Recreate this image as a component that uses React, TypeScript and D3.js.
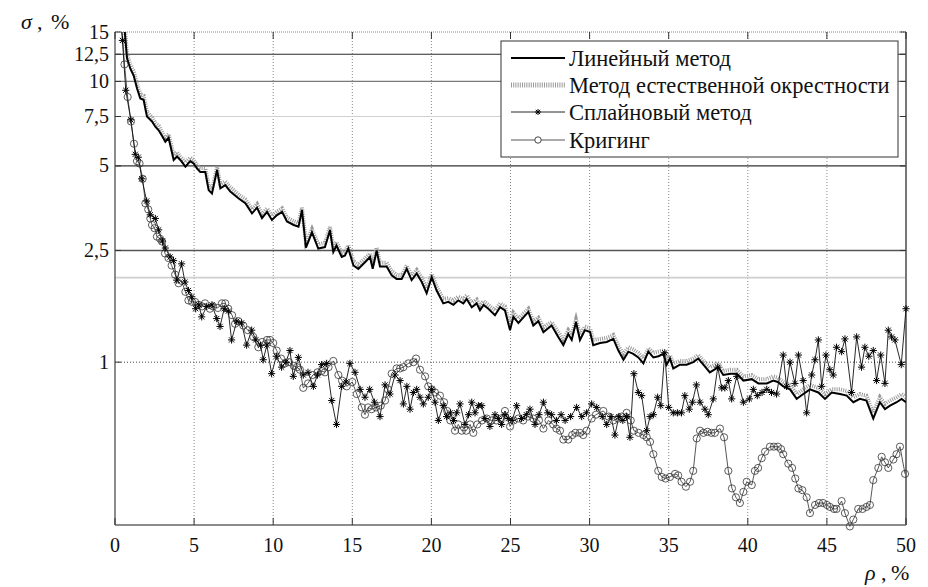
import React from "react";
import * as d3 from "d3";

// ---------- data ----------
const xUpper = [
  0.5, 0.76, 0.97, 1.18, 1.39, 1.6, 1.81, 1.92, 2.02, 2.34,
  2.55, 2.76, 2.97, 3.18, 3.39, 3.71, 3.92, 4.13, 4.45, 4.76,
  4.97, 5.18, 5.39, 5.71, 5.92, 6.13, 6.45, 6.66, 6.97, 7.29,
  7.82, 8.24, 8.66, 8.98, 9.29, 9.61, 9.92, 10.24, 10.56, 10.87,
  11.3, 11.6, 11.82, 12.07, 12.45, 12.85, 13.27, 13.59, 13.8, 14.0,
  14.33, 14.54, 14.75, 15.07, 15.38, 15.8, 16.12, 16.29, 16.54, 16.75,
  17.17, 17.49, 17.8, 18.12, 18.44, 18.75, 19.07, 19.39, 19.7, 20.02,
  20.33, 20.75, 21.07, 21.39, 21.7, 22.02, 22.23, 22.55, 22.86, 23.07,
  23.3, 23.6, 24.02, 24.34, 24.65, 24.97, 25.18, 25.5, 26.13, 26.44,
  26.76, 27.08, 27.6, 28.02, 28.34, 28.65, 28.87, 29.14, 29.39, 29.7,
  30.03, 30.23, 30.66, 31.08, 31.5, 31.82, 32.14, 32.45, 32.76, 33.08,
  33.4, 33.71, 34.03, 34.35, 34.66, 34.87, 35.08, 35.29, 35.71, 36.13,
  36.55, 36.87, 37.19, 37.6, 38.14, 38.45, 38.9, 39.3, 39.72, 40.25,
  40.67, 41.2, 41.61, 41.9, 42.24, 42.67, 43.09, 43.51, 43.93, 44.46,
  44.88, 45.3, 45.83, 46.25, 46.67, 47.09, 47.5, 47.93, 48.35, 48.67,
  48.99, 49.41, 49.72, 50.0,
];

const linearValues = [
  18, 12.1, 11.1, 10.5, 9.45, 8.7, 8.6, 8.0, 7.5, 7.2,
  6.9, 6.7, 6.4, 6.1, 6.3, 5.25, 5.4, 5.25, 4.97, 5.2,
  5.1, 4.9, 4.76, 4.76, 4.1, 3.99, 4.84, 4.16, 4.27, 4.05,
  3.83, 3.68, 3.39, 3.55, 3.26, 3.43, 3.21, 3.34, 3.43, 3.17,
  3.08, 3.04, 3.48, 2.56, 2.9, 2.54, 2.57, 2.95, 2.47, 2.6,
  2.37, 2.4, 2.54, 2.21, 2.15, 2.27, 2.37, 2.15, 2.5, 2.19,
  2.19, 2.04, 1.98, 1.98, 2.15, 1.96, 2.07, 1.93, 1.76, 2.01,
  1.8, 1.62, 1.64, 1.6, 1.66, 1.62, 1.68, 1.57, 1.62, 1.53,
  1.6, 1.55, 1.47, 1.57, 1.53, 1.3, 1.45, 1.38, 1.51, 1.35,
  1.4, 1.28, 1.35, 1.23, 1.15, 1.26, 1.2, 1.39, 1.2, 1.3,
  1.28, 1.15, 1.17, 1.18, 1.21, 1.1, 1.02, 1.09, 1.07, 1.04,
  0.99, 1.09, 1.04, 1.05, 1.07, 0.98, 1.03, 0.95, 0.98, 0.98,
  1.0, 1.03, 0.98, 0.92, 0.96, 0.9, 0.91, 0.91, 0.86, 0.87,
  0.84, 0.84, 0.86, 0.85, 0.82, 0.8, 0.74, 0.77, 0.8, 0.78,
  0.74, 0.78, 0.77, 0.76, 0.72, 0.74, 0.73, 0.63, 0.72, 0.68,
  0.7, 0.72, 0.74, 0.72,
];

const naturalValues = [
  19, 12.5, 11.5, 10.9, 9.8, 9.0, 8.9, 8.3, 7.8, 7.45,
  7.1, 6.95, 6.6, 6.3, 6.5, 5.45, 5.6, 5.4, 5.15, 5.35,
  5.25, 5.05, 4.92, 4.9, 4.25, 4.12, 4.95, 4.3, 4.4, 4.2,
  3.95, 3.8, 3.5, 3.66, 3.37, 3.53, 3.32, 3.44, 3.53, 3.27,
  3.18, 3.13, 3.55, 2.66, 2.98, 2.63, 2.66, 3.03, 2.56, 2.68,
  2.45, 2.48, 2.61, 2.29, 2.22, 2.34, 2.44, 2.23, 2.56, 2.26,
  2.26, 2.11, 2.05, 2.04, 2.21, 2.03, 2.13, 2.0, 1.83, 2.06,
  1.86, 1.68, 1.69, 1.66, 1.71, 1.68, 1.73, 1.63, 1.67, 1.59,
  1.65, 1.6, 1.53, 1.62, 1.58, 1.36, 1.5, 1.43, 1.55, 1.4,
  1.44, 1.33, 1.39, 1.28, 1.2, 1.3, 1.25, 1.42, 1.25, 1.34,
  1.32, 1.2, 1.21, 1.22, 1.25, 1.14, 1.07, 1.13, 1.11, 1.08,
  1.03, 1.12, 1.08, 1.09, 1.1, 1.02, 1.06, 0.99, 1.01, 1.01,
  1.03, 1.06, 1.01, 0.96, 0.99, 0.93, 0.94, 0.94, 0.89, 0.9,
  0.87, 0.87, 0.89, 0.88, 0.85, 0.83, 0.77, 0.8, 0.83, 0.81,
  0.77, 0.8, 0.8, 0.79, 0.75, 0.77, 0.76, 0.66, 0.75, 0.71,
  0.73, 0.75, 0.77, 0.75,
];

const xSpline = [
  0.25, 0.47, 0.68, 1.0, 1.28, 1.47, 1.7, 2.0, 2.23, 2.55,
  2.76, 3.0, 3.18, 3.48, 3.7, 3.9, 4.21, 4.42, 4.64, 4.85,
  5.1, 5.3, 5.48, 5.8, 6.13, 6.43, 6.64, 6.9, 7.16, 7.37,
  7.7, 8.0, 8.32, 8.64, 8.9, 9.2, 9.37, 9.6, 9.9, 10.2,
  10.53, 10.8, 11.06, 11.27, 11.59, 11.9, 12.2, 12.54, 12.8, 13.06,
  13.38, 13.7, 14.0, 14.33, 14.6, 14.85, 15.17, 15.5, 15.8, 16.1,
  16.4, 16.75, 17.07, 17.38, 17.7, 18.02, 18.23, 18.45, 18.65, 18.86,
  19.07, 19.28, 19.49, 19.8, 20.02, 20.23, 20.44, 20.75, 20.96, 21.2,
  21.4, 21.6, 21.81, 22.12, 22.35, 22.55, 22.76, 22.97, 23.18, 23.39,
  23.7, 24.02, 24.23, 24.44, 24.65, 24.86, 25.1, 25.39, 25.7, 26.0,
  26.23, 26.55, 26.8, 27.08, 27.35, 27.6, 27.9, 28.2, 28.45, 28.8,
  29.18, 29.5, 29.8, 30.13, 30.45, 30.8, 31.08, 31.35, 31.6, 31.85,
  32.1, 32.34, 32.55, 32.8, 33.08, 33.29, 33.61, 33.82, 34.03, 34.3,
  34.5, 34.75, 35.0, 35.29, 35.55, 35.81, 36.02, 36.3, 36.5, 36.75,
  36.98, 37.29, 37.5, 37.82, 38.1, 38.35, 38.55, 38.77, 38.98, 39.3,
  39.72, 40.1, 40.35, 40.6, 40.9, 41.2, 41.5, 41.82, 42.24, 42.45,
  42.67, 42.98, 43.2, 43.5, 43.72, 44.04, 44.25, 44.46, 44.67, 44.94,
  45.19, 45.4, 45.61, 45.93, 46.14, 46.56, 46.88, 47.19, 47.4, 47.65,
  47.93, 48.14, 48.4, 48.67, 48.88, 49.09, 49.3, 49.7, 50.0,
];

const splineValues = [
  19, 14.0, 9.3, 7.3, 5.5, 5.37, 4.5, 3.75, 3.35, 3.25,
  2.96, 2.7, 2.55, 2.37, 2.3, 1.96, 2.24, 1.93, 1.8, 1.71,
  1.55, 1.6, 1.45, 1.58, 1.6, 1.43, 1.34, 1.55, 1.52, 1.2,
  1.4, 1.38, 1.15, 1.3, 1.2, 1.15, 1.02, 1.15, 0.91, 1.05,
  0.96, 1.0, 1.1, 0.89, 1.04, 0.9, 0.92, 0.82, 0.9, 0.98,
  0.99, 0.73, 0.6, 0.82, 0.85, 0.99, 0.92, 0.8, 0.75, 0.8,
  0.72, 0.64, 0.83, 0.77, 0.9, 0.86, 0.71, 0.82, 0.68, 0.78,
  0.8, 0.75, 0.71, 0.75, 0.8, 0.72, 0.62, 0.7, 0.64, 0.66,
  0.62, 0.66, 0.71, 0.6, 0.65, 0.72, 0.66, 0.7, 0.7, 0.63,
  0.59, 0.65, 0.63, 0.6, 0.65, 0.63, 0.62, 0.7, 0.63, 0.65,
  0.68, 0.6, 0.65, 0.72, 0.66, 0.65, 0.62, 0.65, 0.62, 0.64,
  0.69, 0.64, 0.66, 0.71, 0.69, 0.64, 0.6, 0.64, 0.55, 0.64,
  0.62, 0.64, 0.54, 0.91, 0.78, 0.76, 0.57, 0.64, 0.65, 0.75,
  0.7, 1.08, 0.69, 0.66, 0.66, 0.66, 0.76, 0.68, 0.72, 0.83,
  0.72, 0.68, 0.65, 0.74, 0.96, 0.81, 0.81, 0.86, 0.74, 0.89,
  0.72, 0.74, 0.8, 0.76, 0.78, 0.8, 0.78, 0.77, 1.06, 0.82,
  1.0, 0.84, 1.06, 0.86, 0.66, 0.9, 1.02, 1.2, 0.82, 1.06,
  0.94, 0.9, 1.13, 1.09, 1.21, 0.78, 1.23, 0.96, 1.13, 1.05,
  1.1, 0.86, 1.06, 0.84, 1.3, 1.23, 1.2, 0.98, 1.55,
];

const xKriging = [
  0.3, 0.6, 0.8, 1.01, 1.2, 1.39, 1.55, 1.75, 1.92, 2.1,
  2.23, 2.34, 2.5, 2.65, 2.85, 2.97, 3.16, 3.38, 3.58, 3.8,
  4.02, 4.2, 4.45, 4.64, 4.87, 5.06, 5.3, 5.5, 5.69, 6.0,
  6.2, 6.5, 6.76, 6.97, 7.16, 7.4, 7.59, 7.8, 8.11, 8.4,
  8.74, 9.06, 9.3, 9.61, 9.8, 10.0, 10.22, 10.5, 10.75, 11.0,
  11.3, 11.5, 11.69, 11.9, 12.2, 12.5, 12.8, 13.06, 13.27, 13.5,
  13.8, 14.12, 14.35, 14.65, 15.0, 15.28, 15.6, 15.8, 16.0, 16.22,
  16.5, 16.8, 17.07, 17.25, 17.49, 17.8, 18.02, 18.23, 18.54, 18.86,
  19.03, 19.28, 19.6, 19.8, 20.02, 20.23, 20.54, 20.8, 21.0, 21.2,
  21.49, 21.7, 21.92, 22.2, 22.45, 22.65, 22.9, 23.2, 23.5, 23.8,
  24.1, 24.4, 24.65, 24.97, 25.2, 25.5, 25.8, 26.1, 26.44, 26.8,
  27.08, 27.4, 27.7, 27.9, 28.13, 28.34, 28.65, 28.9, 29.1, 29.39,
  29.6, 29.81, 30.13, 30.4, 30.87, 31.2, 31.5, 31.8, 32.03, 32.34,
  32.6, 32.8, 33.1, 33.4, 33.61, 33.82, 34.03, 34.34, 34.56, 34.8,
  35.08, 35.4, 35.6, 35.81, 36.09, 36.35, 36.55, 36.77, 36.98, 37.2,
  37.45, 37.7, 37.92, 38.24, 38.5, 38.77, 39.0, 39.25, 39.5, 39.72,
  39.93, 40.25, 40.45, 40.65, 40.88, 41.09, 41.4, 41.65, 41.9, 42.1,
  42.24, 42.56, 42.8, 43.0, 43.2, 43.45, 43.72, 43.93, 44.25, 44.5,
  44.75, 45.0, 45.19, 45.45, 45.61, 45.93, 46.14, 46.45, 46.67, 46.98,
  47.25, 47.5, 47.72, 47.93, 48.25, 48.46, 48.67, 48.88, 49.2, 49.4,
  49.62, 49.94,
];

const krigingValues = [
  20, 11.5, 8.8, 7.2, 6.0, 5.2, 5.1, 4.5, 3.68, 3.5,
  3.25, 3.08, 3.0, 2.8, 2.75, 2.69, 2.44, 2.35, 2.21, 2.05,
  1.91, 1.95, 1.78, 1.66, 1.64, 1.64, 1.6, 1.58, 1.62, 1.55,
  1.58, 1.56, 1.62, 1.62, 1.55, 1.47, 1.37, 1.4, 1.35, 1.3,
  1.23, 1.13, 1.18, 1.2, 1.2, 1.17, 1.1, 1.03, 0.99, 1.0,
  0.97, 0.96, 0.94, 0.81, 0.84, 0.9, 0.92, 0.93, 0.92, 0.96,
  1.01, 0.9, 0.86, 0.82, 0.85, 0.77, 0.69, 0.65, 0.69, 0.68,
  0.69, 0.7, 0.73, 0.8, 0.91, 0.95, 0.95, 0.96, 0.99, 1.0,
  1.03, 0.94, 0.89, 0.82, 0.8, 0.78, 0.76, 0.72, 0.67, 0.62,
  0.57, 0.6, 0.57, 0.57, 0.6, 0.56, 0.6, 0.62, 0.63, 0.62,
  0.62, 0.63, 0.67, 0.59, 0.62, 0.63, 0.62, 0.64, 0.63, 0.62,
  0.58, 0.62, 0.6, 0.58, 0.57, 0.53, 0.53, 0.55, 0.56, 0.56,
  0.55, 0.57, 0.63, 0.65, 0.67, 0.64, 0.62, 0.63, 0.64, 0.66,
  0.62, 0.57, 0.56, 0.55, 0.54, 0.52, 0.47, 0.41, 0.39, 0.385,
  0.39, 0.4, 0.395, 0.375, 0.36, 0.375, 0.41, 0.535, 0.57, 0.56,
  0.565, 0.56, 0.56, 0.58, 0.54, 0.41, 0.355, 0.33, 0.315, 0.345,
  0.375, 0.365, 0.41, 0.42, 0.455, 0.48, 0.5, 0.5, 0.5, 0.49,
  0.47, 0.435, 0.42, 0.385, 0.355, 0.35, 0.33, 0.29, 0.31, 0.315,
  0.315, 0.31, 0.305, 0.3, 0.3, 0.32, 0.29, 0.26, 0.275, 0.3,
  0.3, 0.305, 0.31, 0.38, 0.42, 0.46, 0.44, 0.42, 0.45, 0.47,
  0.5, 0.4,
];

const xTicks = [0, 5, 10, 15, 20, 25, 30, 35, 40, 45, 50];
const yTicks = [1, 2.5, 5, 7.5, 10, 12.5, 15];
const yTickLabels = ["1", "2,5", "5", "7,5", "10", "12,5", "15"];
const legendLabels = [
  "Линейный метод",
  "Метод естественной окрестности",
  "Сплайновый метод",
  "Кригинг",
];

// ---------- layout ----------
const W = 928;
const H = 587;
const L = 115, R = 906, T = 32, B = 525;
const FONT = "'Liberation Serif', 'Times New Roman', serif";

const x = d3.scaleLinear().domain([0, 50]).range([L, R]);
const y = d3.scaleLog().domain([0.263, 15]).range([B, T]);

type P = [number, number];
const zip = (xs: number[], vs: number[]): P[] =>
  xs.slice(0, Math.min(xs.length, vs.length)).map((v, i) => [v, vs[i]] as P);

const lineGen = d3
  .line<P>()
  .x((d) => x(d[0]))
  .y((d) => y(d[1]));

const linearData = zip(xUpper, linearValues);
const naturalData = zip(xUpper, naturalValues);
const splineData = zip(xSpline, splineValues);
const krigingData = zip(xKriging, krigingValues);

const starPath = (s: number) => {
  const d = s * 0.72;
  return `M0,${-s}L0,${s}M${-s},0L${s},0M${-d},${-d}L${d},${d}M${-d},${d}L${d},${-d}`;
};

// horizontal grid lines with their looks
const hGrid = [
  { v: 12.5, stroke: "#2a2a2a", w: 1.2, dash: "" },
  { v: 10, stroke: "#7a7a7a", w: 1.2, dash: "" },
  { v: 7.5, stroke: "#d0d0d0", w: 1.2, dash: "" },
  { v: 5, stroke: "#333", w: 1.2, dash: "" },
  { v: 2.5, stroke: "#555", w: 1.4, dash: "" },
  { v: 2, stroke: "#cfcfcf", w: 1.6, dash: "" },
  { v: 1, stroke: "#444", w: 1, dash: "1 2" },
];

export default function App() {
  const inside = (d: P) => d[1] <= 15.3;
  return (
    <svg
      width={W}
      height={H}
      style={{ position: "absolute", left: 0, top: 0, background: "#fff" }}
      fontFamily={FONT}
    >
      <defs>
        <clipPath id="plot">
          <rect x={L} y={T} width={R - L} height={B - T + 4} />
        </clipPath>
      </defs>
      <rect x={0} y={0} width={W} height={H} fill="#fff" />

      {/* vertical grid */}
      {xTicks.slice(1, -1).map((t) => (
        <line key={"vg" + t} x1={x(t)} x2={x(t)} y1={T} y2={B}
          stroke="#888" strokeWidth={1} strokeDasharray="1 2" />
      ))}
      {/* top border dotted */}
      <line x1={L} x2={R} y1={T} y2={T} stroke="#888" strokeWidth={1} strokeDasharray="1 1" />

      {/* horizontal grid */}
      {hGrid.map((g) => (
        <line key={"hg" + g.v} x1={L} x2={R} y1={y(g.v)} y2={y(g.v)}
          stroke={g.stroke} strokeWidth={g.w} strokeDasharray={g.dash || undefined} />
      ))}

      {/* axes */}
      <line x1={L} x2={L} y1={T} y2={B} stroke="#666" strokeWidth={1.5} />
      <line x1={L} x2={R} y1={B} y2={B} stroke="#666" strokeWidth={1.5} />
      <line x1={R} x2={R} y1={T} y2={B} stroke="#777" strokeWidth={2} />

      {/* ticks */}
      {xTicks.map((t) => (
        <g key={"xt" + t}>
          <line x1={x(t)} x2={x(t)} y1={B} y2={B - 7} stroke="#333" strokeWidth={1} />
          <line x1={x(t)} x2={x(t)} y1={T} y2={T + 7} stroke="#333" strokeWidth={1} />
          <text x={x(t)} y={552} textAnchor="middle" fontSize={20} fill="#111">{t}</text>
        </g>
      ))}
      {yTicks.map((t, i) => (
        <g key={"yt" + t}>
          <line x1={L} x2={L + 6} y1={y(t)} y2={y(t)} stroke="#333" strokeWidth={1} />
          <line x1={R} x2={R - 6} y1={y(t)} y2={y(t)} stroke="#333" strokeWidth={1} />
          <text x={109} y={y(t) + 6.5} textAnchor="end" fontSize={20} fill="#111">{yTickLabels[i]}</text>
        </g>
      ))}

      {/* series */}
      <g clipPath="url(#plot)">
        <path d={lineGen(naturalData) || ""} fill="none" stroke="#9a9a9a"
          strokeWidth={4} strokeDasharray="1 1.2" />
        <path d={lineGen(linearData) || ""} fill="none" stroke="#000" strokeWidth={2} />
        <path d={lineGen(krigingData) || ""} fill="none" stroke="#444" strokeWidth={0.9} />
        <path d={lineGen(splineData) || ""} fill="none" stroke="#111" strokeWidth={0.9} />
      </g>
      {krigingData.filter(inside).map((d, i) => (
        <circle key={"k" + i} cx={x(d[0])} cy={y(d[1])} r={3.6}
          fill="none" stroke="#333" strokeWidth={0.8} />
      ))}
      {splineData.filter(inside).map((d, i) => (
        <path key={"s" + i} d={starPath(3.6)} transform={`translate(${x(d[0])},${y(d[1])})`}
          stroke="#000" strokeWidth={1} fill="none" />
      ))}

      {/* legend */}
      <rect x={501} y={41} width={397} height={116} fill="#fff" stroke="#333" strokeWidth={1} />
      {legendLabels.map((lab, i) => {
        const ly = [58, 85, 112, 140][i];
        return (
          <g key={"lg" + i}>
            {i === 0 && <line x1={511} x2={565} y1={ly} y2={ly} stroke="#000" strokeWidth={2} />}
            {i === 1 && (
              <line x1={511} x2={565} y1={ly} y2={ly} stroke="#9a9a9a" strokeWidth={5}
                strokeDasharray="1 1.2" />
            )}
            {i === 2 && (
              <g>
                <line x1={511} x2={565} y1={ly} y2={ly} stroke="#111" strokeWidth={0.9} />
                <path d={starPath(3)} transform={`translate(538,${ly})`} stroke="#000" strokeWidth={1} />
              </g>
            )}
            {i === 3 && (
              <g>
                <line x1={511} x2={565} y1={ly} y2={ly} stroke="#444" strokeWidth={0.9} />
                <circle cx={538} cy={ly} r={3.2} fill="#fff" stroke="#333" strokeWidth={0.9} />
              </g>
            )}
            <text x={569} y={ly + 7.5} fontSize={22.5} fill="#111">{lab}</text>
          </g>
        );
      })}

      {/* axis titles */}
      <text y={29} fontSize={22} fill="#111">
        <tspan x={21} fontStyle="italic">σ</tspan>
        <tspan x={37}>,</tspan>
        <tspan x={51}>%</tspan>
      </text>
      <text y={580} fontSize={22} fill="#111">
        <tspan x={865} fontStyle="italic">ρ</tspan>
        <tspan x={881}>,</tspan>
        <tspan x={891}>%</tspan>
      </text>
    </svg>
  );
}
